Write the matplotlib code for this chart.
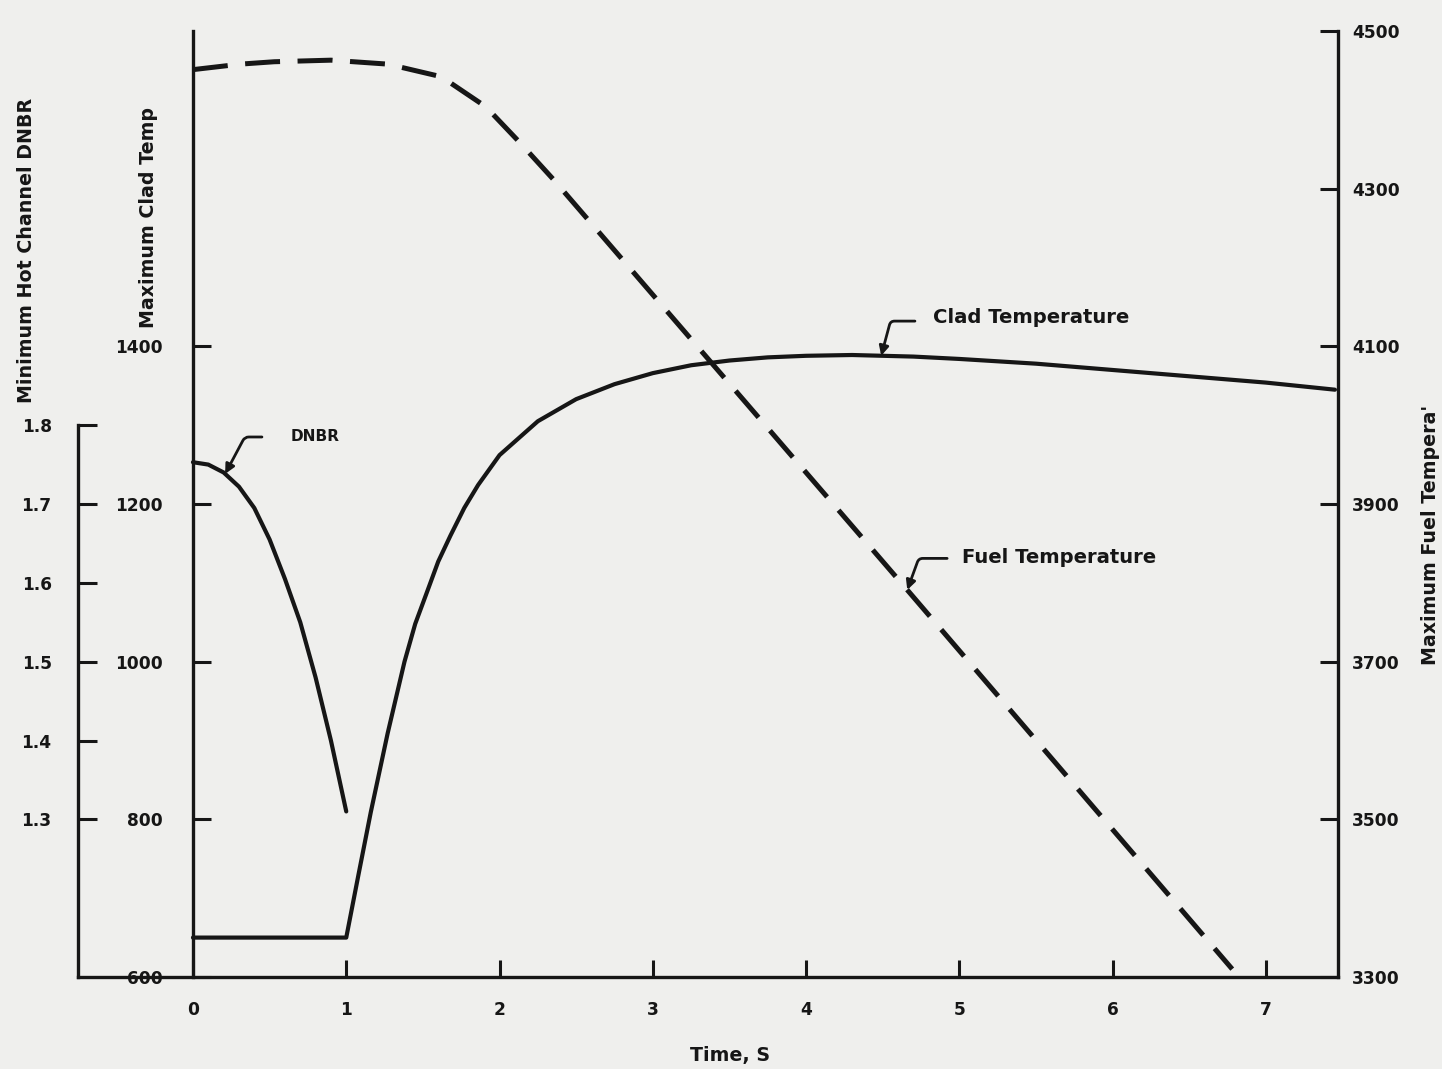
import matplotlib
matplotlib.use('Agg')
import matplotlib.pyplot as plt
from matplotlib import font_manager
import numpy as np

# clad temperature (deg F) vs time (s)
clad_t = [0.0, 1.0, 1.08, 1.16, 1.27, 1.38, 1.45, 1.53, 1.6, 1.68, 1.77, 1.86, 2.0,
          2.25, 2.5, 2.75, 3.0, 3.25, 3.5, 3.75, 4.0, 4.3, 4.7, 5.0, 5.5, 6.0, 6.5, 7.0, 7.45]
clad_temp = [650, 650, 730, 809, 909, 1000, 1048, 1090, 1127, 1160, 1195, 1224, 1262,
             1305, 1333, 1352, 1366, 1376, 1382, 1386, 1388, 1389, 1387, 1384, 1378, 1370,
             1362, 1354, 1345]

# minimum DNBR vs time
dnbr_t = [0.0, 0.1, 0.2, 0.3, 0.4, 0.5, 0.6, 0.7, 0.8, 0.9, 1.0]
dnbr = [1.753, 1.750, 1.740, 1.722, 1.695, 1.655, 1.605, 1.55, 1.48, 1.40, 1.31]

# fuel temperature (deg F) vs time
fuel_t = [0.0, 0.31, 0.53, 0.90, 1.27, 1.62, 1.91, 2.13, 2.35, 4.66, 6.78]
fuel_temp = [4451, 4458, 4461, 4463, 4458, 4442, 4404, 4359, 4312, 3791, 3310]

time_ticks = [0, 1, 2, 3, 4, 5, 6, 7]
clad_ticks = [600, 800, 1000, 1200, 1400]
dnbr_ticks = [1.3, 1.4, 1.5, 1.6, 1.7, 1.8]
fuel_ticks = [3300, 3500, 3700, 3900, 4100, 4300, 4500]

INK = '#161616'
PAPER = '#efefed'
W, H = 1442, 1069

installed = {f.name for f in font_manager.fontManager.ttflist}
if 'Liberation Sans Narrow' in installed:
    FONT, SCALE = 'Liberation Sans Narrow', 1.0
else:
    FONT, SCALE = 'DejaVu Sans', 0.72
plt.rcParams['font.family'] = [FONT, 'DejaVu Sans']
plt.rcParams['font.weight'] = 'bold'
plt.rcParams['text.color'] = INK

TICK_FS = 17 * SCALE
NOTE_FS = 19.7 * SCALE
LABEL_FS = 19 * SCALE


def px_rect(x0, y0, x1, y1):
    return [x0 / W, 1 - y1 / H, (x1 - x0) / W, (y1 - y0) / H]


fig = plt.figure(figsize=(W / 100, H / 100), dpi=100, facecolor=PAPER)
rect = px_rect(78, 31, 1338, 977)

# clad temperature axes (main, carries the time axis)
ax = fig.add_axes(rect)
ax.set_facecolor('none')
ax.set_xlim(-0.75, 7.47)
ax.set_ylim(600, 1800)
for side in ['top', 'right']:
    ax.spines[side].set_visible(False)
ax.spines['left'].set_position(('data', 0))
for side in ['left', 'bottom']:
    ax.spines[side].set_linewidth(2.4)
    ax.spines[side].set_color(INK)
ax.set_xticks(time_ticks)
ax.set_yticks(clad_ticks)
ax.tick_params(axis='x', direction='in', length=12, width=2.2, color=INK,
               labelsize=TICK_FS, pad=17, labelcolor=INK)
ax.tick_params(axis='y', direction='in', length=13, width=2.2, color=INK,
               labelsize=TICK_FS, pad=22, labelcolor=INK)
ax.plot(clad_t, clad_temp, color=INK, lw=3.0, solid_capstyle='round',
        solid_joinstyle='round')

# DNBR axes
ax_d = fig.add_axes(rect, sharex=ax)
ax_d.set_facecolor('none')
ax_d.set_ylim(1.1, 2.3)
for side in ['top', 'right', 'bottom']:
    ax_d.spines[side].set_visible(False)
ax_d.spines['left'].set_bounds(1.1, 1.8)
ax_d.spines['left'].set_linewidth(2.4)
ax_d.spines['left'].set_color(INK)
ax_d.xaxis.set_visible(False)
ax_d.set_yticks(dnbr_ticks)
ax_d.set_yticklabels([f'{v:.1f}' for v in dnbr_ticks])
ax_d.tick_params(axis='y', direction='in', length=14, width=2.2, color=INK,
                 labelsize=TICK_FS, pad=19, labelcolor=INK)
ax_d.plot(dnbr_t, dnbr, color=INK, lw=3.0, solid_capstyle='round',
          solid_joinstyle='round')

# fuel temperature axes
ax_f = fig.add_axes(rect, sharex=ax)
ax_f.set_facecolor('none')
ax_f.set_ylim(3300, 4500)
for side in ['top', 'left', 'bottom']:
    ax_f.spines[side].set_visible(False)
ax_f.spines['right'].set_linewidth(2.4)
ax_f.spines['right'].set_color(INK)
ax_f.xaxis.set_visible(False)
ax_f.yaxis.tick_right()
ax_f.set_yticks(fuel_ticks)
ax_f.tick_params(axis='y', direction='in', length=13, width=2.2, color=INK,
                 labelsize=TICK_FS, pad=10, labelcolor=INK)
ax_f.plot(fuel_t, fuel_temp, color=INK, lw=3.6, linestyle=(0, (7, 3.5)))

# curve labels with leaders
arrow = dict(arrowstyle='-|>', color=INK, lw=2, shrinkA=0, shrinkB=0,
             mutation_scale=14)
ax_d.annotate('', xy=(0.21, np.interp(0.21, dnbr_t, dnbr)), xytext=(0.45, 1.785),
              arrowprops=dict(arrow, connectionstyle='angle,angleA=0,angleB=62,rad=4'))
ax_d.text(0.64, 1.785, 'DNBR', fontsize=NOTE_FS * 0.78, va='center', ha='left')

ax.annotate('', xy=(4.49, np.interp(4.49, clad_t, clad_temp)), xytext=(4.71, 1432),
            arrowprops=dict(arrow, connectionstyle='angle,angleA=0,angleB=75,rad=4'))
ax.text(4.83, 1436, 'Clad Temperature', fontsize=NOTE_FS, va='center', ha='left')

ax_f.annotate('', xy=(4.66, np.interp(4.66, fuel_t, fuel_temp)), xytext=(4.92, 3831),
              arrowprops=dict(arrow, connectionstyle='angle,angleA=0,angleB=70,rad=4'))
ax_f.text(5.02, 3832, 'Fuel Temperature', fontsize=NOTE_FS, va='center', ha='left')

# axis titles
fig.text(27 / W, 1 - 250 / H, 'Minimum Hot Channel DNBR', rotation=90,
         ha='center', va='center', fontsize=LABEL_FS)
fig.text(148 / W, 1 - 217 / H, 'Maximum Clad Temp', rotation=90,
         ha='center', va='center', fontsize=LABEL_FS)
fig.text(1430 / W, 1 - 535 / H, "Maximum Fuel Tempera'", rotation=90,
         ha='center', va='center', fontsize=LABEL_FS)
fig.text(730 / W, 1 - 1055 / H, 'Time, S', ha='center', va='center',
         fontsize=LABEL_FS)

fig.savefig('out.png', dpi=100, facecolor=PAPER)
